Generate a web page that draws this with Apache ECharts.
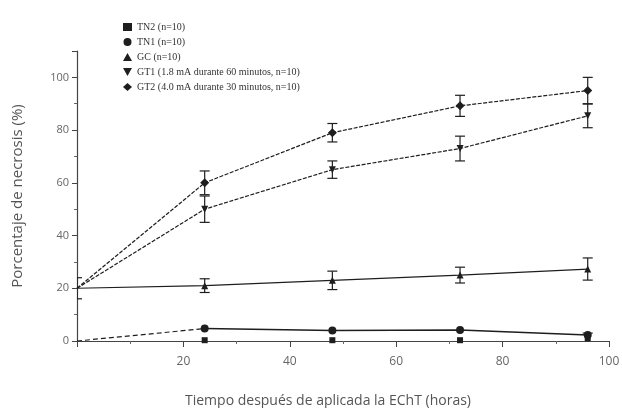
<!DOCTYPE html>
<html><head><meta charset="utf-8">
<script src="https://cdn.jsdelivr.net/npm/echarts@6/dist/echarts.min.js"></script>
<style>html,body{margin:0;padding:0;background:#fff}#c{width:622px;height:408px}</style>
</head><body><div id="c"></div>
<script>
var hours = [0, 24, 48, 72, 96];
var seriesNames = ['TN2 (n=10)', 'TN1 (n=10)', 'GC (n=10)', 'GT1 (1.8 mA durante 60 minutos, n=10)', 'GT2 (4.0 mA durante 30 minutos, n=10)'];
var tn2 = [0, 0.3, 0.3, 0.3, 1.0];
var tn1 = [0, 4.7, 4.0, 4.2, 2.3];
var gc = [20, 21, 23, 25, 27.3];
var gt1 = [20, 50, 65, 73, 85.4];
var gt2 = [20, 60, 79, 89.2, 95];
var gcErr = [4, 2.6, 3.5, 3, 4.2];
var gt1Err = [0, 5, 3.3, 4.7, 4.5];
var gt2Err = [0, 4.5, 3.5, 4, 5];
var tn2Err = [0, 0, 0, 0, 2];
var xTicks = [20, 40, 60, 80, 100];
var yTicks = [0, 20, 40, 60, 80, 100];

var INK = '#1e1e1e';
function pts(ys, hideFirst) {
  return hours.map(function (h, i) {
    if (hideFirst && i === 0) return { value: [h, ys[i]], symbol: 'none' };
    return [h, ys[i]];
  });
}
function errData(ys, es) {
  var out = [];
  hours.forEach(function (h, i) { if (es[i] > 0) out.push([h, ys[i] - es[i], ys[i] + es[i]]); });
  return out;
}
function errSeries(ys, es) {
  return {
    type: 'custom', clip: true, silent: true, z: 1,
    data: errData(ys, es),
    renderItem: function (params, api) {
      var lo = api.coord([api.value(0), api.value(1)]);
      var hi = api.coord([api.value(0), api.value(2)]);
      var cs = params.coordSys;
      var w = 5;
      var xl = Math.max(lo[0] - w, cs.x), xr = Math.min(lo[0] + w, cs.x + cs.width);
      var st = { stroke: INK, lineWidth: 1.2 };
      return { type: 'group', children: [
        { type: 'line', shape: { x1: lo[0], y1: lo[1], x2: hi[0], y2: hi[1] }, style: st },
        { type: 'line', shape: { x1: xl, y1: lo[1], x2: xr, y2: lo[1] }, style: st },
        { type: 'line', shape: { x1: xl, y1: hi[1], x2: xr, y2: hi[1] }, style: st }
      ]};
    }
  };
}
var downTri = 'path://M0,0L10,0L5,9Z';
var chart = echarts.init(document.getElementById('c'));
chart.setOption({
  animation: false,
  backgroundColor: '#fff',
  grid: { left: 77, right: 13, top: 51, bottom: 67, containLabel: false, outerBoundsMode: 'none' },
  legend: {
    orient: 'vertical', left: 118, top: 16, itemWidth: 9, itemHeight: 8, itemGap: 3,
    textStyle: { fontFamily: 'Liberation Serif', fontSize: 10, color: '#333', lineHeight: 12 },
    data: [
      { name: seriesNames[0], icon: 'rect' },
      { name: seriesNames[1], icon: 'circle' },
      { name: seriesNames[2], icon: 'triangle' },
      { name: seriesNames[3], icon: downTri },
      { name: seriesNames[4], icon: 'diamond' }
    ]
  },
  xAxis: {
    type: 'value', min: 0, max: 100, interval: 20,
    name: 'Tiempo después de aplicada la EChT (horas)', nameLocation: 'middle', nameGap: 53,
    nameTextStyle: { fontFamily: 'Open Sans', fontSize: 14, color: '#555', padding: [0, 30, 0, 0] },
    axisLine: { lineStyle: { color: '#444', width: 1.2 } },
    axisTick: { show: true, inside: false, length: 6, lineStyle: { color: '#444' } },
    minorTick: { show: true, splitNumber: 2, length: 3, lineStyle: { color: '#666' } },
    splitLine: { show: false },
    axisLabel: { margin: 15, fontFamily: 'Open Sans', fontSize: 12, color: '#666',
      formatter: function (v) { return xTicks.indexOf(v) >= 0 ? String(v) : ''; } }
  },
  yAxis: {
    type: 'value', min: 0, max: 110, interval: 20,
    name: 'Porcentaje de necrosis (%)', nameLocation: 'middle', nameGap: 52,
    nameTextStyle: { fontFamily: 'Open Sans', fontSize: 15, color: '#555' },
    axisLine: { show: true, lineStyle: { color: '#444', width: 1.2 } },
    axisTick: { show: true, inside: false, length: 5, lineStyle: { color: '#444' } },
    minorTick: { show: true, splitNumber: 2, length: 3, lineStyle: { color: '#666' } },
    splitLine: { show: false },
    axisLabel: { margin: 8, fontFamily: 'Open Sans', fontSize: 11, color: '#666',
      formatter: function (v) { return yTicks.indexOf(v) >= 0 ? String(v) : ''; } }
  },
  series: [
    errSeries(gc, gcErr), errSeries(gt1, gt1Err), errSeries(gt2, gt2Err), errSeries(tn2, tn2Err),
    { name: seriesNames[0], type: 'line', data: pts(tn2, true), symbol: 'rect', symbolSize: 6,
      itemStyle: { color: INK }, lineStyle: { width: 0, opacity: 0 }, z: 3 },
    { name: seriesNames[1], type: 'line', data: pts(tn1).slice(0, 2), symbol: 'none',
      itemStyle: { color: INK }, lineStyle: { color: INK, width: 1.2, type: [5, 3] }, z: 2 },
    { name: seriesNames[1], type: 'line', data: pts(tn1).slice(1), symbol: 'circle', symbolSize: 8,
      itemStyle: { color: INK }, lineStyle: { color: INK, width: 1.5 }, z: 3 },
    { name: seriesNames[2], type: 'line', data: pts(gc, true), symbol: 'triangle', symbolSize: 7,
      itemStyle: { color: INK }, lineStyle: { color: INK, width: 1.2 }, z: 3 },
    { name: seriesNames[3], type: 'line', data: pts(gt1, true), symbol: 'triangle', symbolRotate: 180, symbolSize: 7,
      itemStyle: { color: INK }, lineStyle: { color: INK, width: 1.2, type: [4, 1.5] }, z: 3 },
    { name: seriesNames[4], type: 'line', data: pts(gt2, true), symbol: 'diamond', symbolSize: 9,
      itemStyle: { color: INK }, lineStyle: { color: INK, width: 1.2, type: [4, 1.5] }, z: 3 }
  ]
});
</script></body></html>
